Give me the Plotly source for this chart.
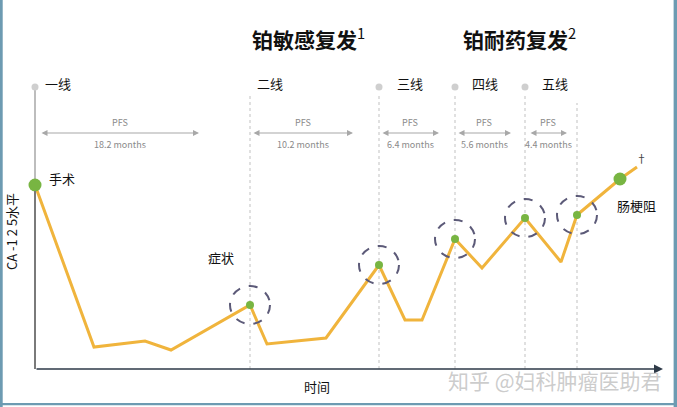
import plotly.graph_objects as go

# ---- data (time units, CA-125 level units) ----
time_pts = [0, 59, 110, 136, 215, 232, 291, 344, 370, 387, 420, 447, 490, 526, 542, 585, 602]
ca125 = [184, 22, 28, 19, 64, 25, 31, 104, 49, 49, 130, 101, 151, 107, 154, 190, 202]

big_idx = [0, 15]
small_idx = [4, 7, 10, 12, 14]  # circled relapse points

line_names = ["一线", "二线", "三线", "四线", "五线"]
line_starts = [0, 215, 344, 420, 490]
extra_line = 542

pfs_labels = ["18.2 months", "10.2 months", "6.4 months", "5.6 months", "4.4 months"]
pfs_from = [5, 217, 346, 422, 494]
pfs_to = [164, 318, 404, 476, 532]

FONT = "Noto Sans CJK SC, Noto Sans, sans-serif"
LINE_C = "#F0B43C"
GREEN = "#78B542"

fig = go.Figure()

# treatment lines
fig.add_shape(type="line", x0=0, x1=0, y0=184, y1=282, line=dict(color="#BDBDBD", width=2), layer="below")
for x in line_starts[1:]:
    fig.add_shape(type="line", x0=x, x1=x, y0=0, y1=274,
                  line=dict(color="#D6D6D6", width=1.5, dash="dot"), layer="below")
fig.add_shape(type="line", x0=extra_line, x1=extra_line, y0=0, y1=266,
              line=dict(color="#D6D6D6", width=1.5, dash="dot"), layer="below")

# top dots
fig.add_trace(go.Scatter(x=[0, 344, 420, 490], y=[282] * 4, mode="markers",
                         marker=dict(color="#CFCFCF", size=7), hoverinfo="skip"))

# axes
fig.add_shape(type="line", x0=0, x1=0, y0=0, y1=178, line=dict(color="#7A7A7A", width=2))
fig.add_annotation(x=628, y=0, ax=0, ay=0, axref="x", ayref="y", xref="x", yref="y",
                   text="", showarrow=True, arrowhead=2, arrowsize=1.2, arrowwidth=1.5,
                   arrowcolor="#2E3A48")

# main line
fig.add_trace(go.Scatter(x=time_pts, y=ca125, mode="lines",
                         line=dict(color=LINE_C, width=3), hoverinfo="skip"))

# dashed circles
for i in small_idx:
    cx, cy = time_pts[i], ca125[i]
    fig.add_shape(type="circle", x0=cx - 20, x1=cx + 20, y0=cy - 19, y1=cy + 19,
                  line=dict(color="#5C5A78", width=2, dash="dash"))

# dots
fig.add_trace(go.Scatter(x=[time_pts[i] for i in big_idx], y=[ca125[i] for i in big_idx],
                         mode="markers", marker=dict(color=GREEN, size=13), hoverinfo="skip"))
fig.add_trace(go.Scatter(x=[time_pts[i] for i in small_idx], y=[ca125[i] for i in small_idx],
                         mode="markers", marker=dict(color=GREEN, size=8), hoverinfo="skip"))

# PFS arrows
for a, b, lab in zip(pfs_from, pfs_to, pfs_labels):
    fig.add_annotation(x=b, y=236, ax=a, ay=236, axref="x", ayref="y", xref="x", yref="y",
                       text="", showarrow=True, arrowhead=2, arrowside="end+start",
                       arrowsize=1, arrowwidth=1.2, arrowcolor="#A8A8A8")
    mid = (a + b) / 2
    fig.add_annotation(x=mid, y=247, text="PFS", showarrow=False,
                       font=dict(family=FONT, size=9, color="#8A8A8A"))
    fig.add_annotation(x=mid, y=225, text=lab, showarrow=False,
                       font=dict(family=FONT, size=9, color="#8A8A8A"))

# line labels
label_x = [8, 220, 360, 435, 505]
for x, name in zip(label_x, line_names):
    fig.add_annotation(x=x, y=286, text=name, showarrow=False, xanchor="left",
                       font=dict(family=FONT, size=13, color="#111111"))

# titles
fig.add_annotation(x=215, y=331, text="<b>铂敏感复发</b><sup>1</sup>", showarrow=False, xanchor="left",
                   font=dict(family=FONT, size=21, color="#111111"))
fig.add_annotation(x=426, y=331, text="<b>铂耐药复发</b><sup>2</sup>", showarrow=False, xanchor="left",
                   font=dict(family=FONT, size=21, color="#111111"))

# other texts
fig.add_annotation(x=12, y=191, text="手术", showarrow=False, xanchor="left",
                   font=dict(family=FONT, size=13, color="#111111"))
fig.add_annotation(x=171, y=112, text="症状", showarrow=False, xanchor="left",
                   font=dict(family=FONT, size=13, color="#111111"))
fig.add_annotation(x=580, y=164, text="肠梗阻", showarrow=False, xanchor="left",
                   font=dict(family=FONT, size=13, color="#111111"))
fig.add_annotation(x=606, y=211, text="†", showarrow=False,
                   font=dict(family=FONT, size=11, color="#444444"))
fig.add_annotation(x=282, y=-17, text="时间", showarrow=False,
                   font=dict(family=FONT, size=13, color="#111111"))
fig.add_annotation(x=-24, y=137, text="CA -1 2 5水平", showarrow=False, textangle=-90,
                   font=dict(family=FONT, size=13, color="#111111"))
fig.add_annotation(x=520, y=-11, text="知乎 @妇科肿瘤医助君", showarrow=False,
                   font=dict(family=FONT, size=21, color="rgba(195,195,195,0.85)"))

# frame border
fig.add_shape(type="rect", xref="paper", yref="paper", x0=0, x1=0.004, y0=0, y1=1,
              line=dict(width=0), fillcolor="#6D9BB2")
fig.add_shape(type="rect", xref="paper", yref="paper", x0=0.995, x1=1, y0=0, y1=1,
              line=dict(width=0), fillcolor="#6D9BB2")
fig.add_shape(type="rect", xref="paper", yref="paper", x0=0, x1=1, y0=0.004, y1=0.01,
              line=dict(width=0), fillcolor="#6D9BB2")

fig.update_layout(
    width=677, height=407, margin=dict(l=0, r=0, t=0, b=0),
    paper_bgcolor="white", plot_bgcolor="white", showlegend=False,
    xaxis=dict(range=[-35, 642], visible=False, fixedrange=True),
    yaxis=dict(range=[-38, 369], visible=False, fixedrange=True),
)

fig.write_html("out.html")
